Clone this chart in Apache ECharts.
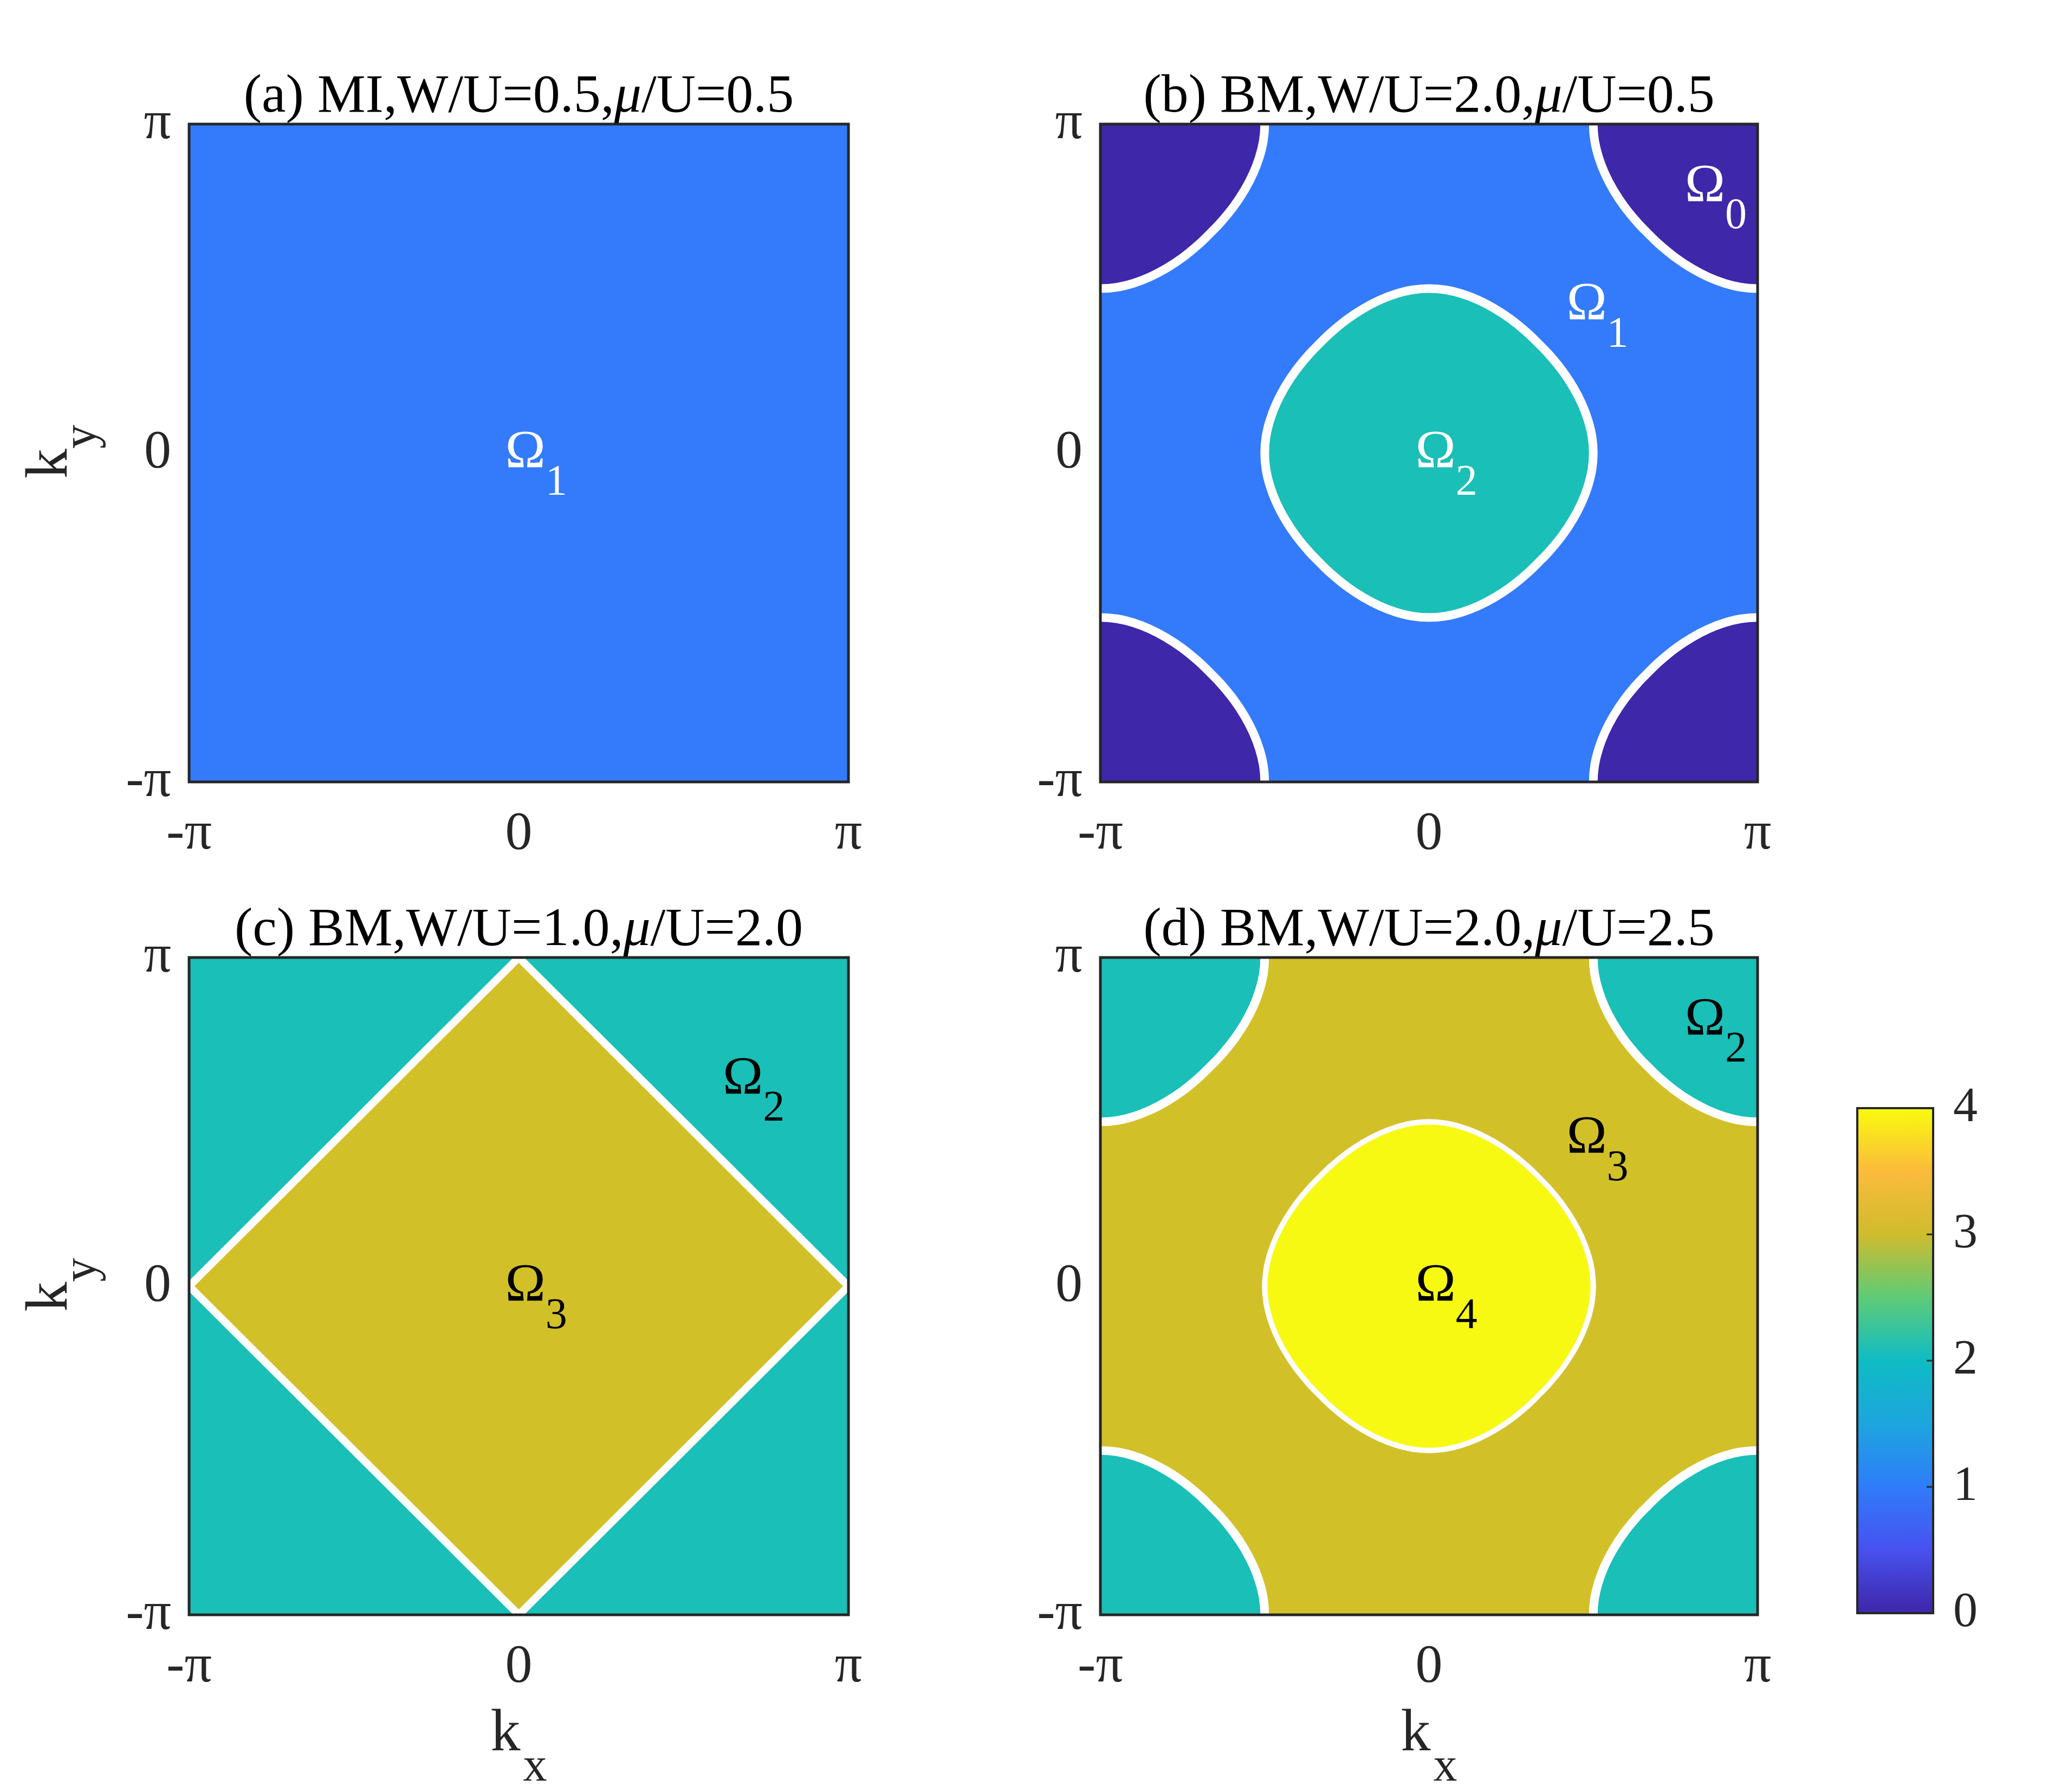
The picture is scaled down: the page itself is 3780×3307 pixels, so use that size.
<!DOCTYPE html>
<html>
<head>
<meta charset="utf-8">
<script src="https://cdn.jsdelivr.net/npm/echarts@6/dist/echarts.min.js"></script>
<style>html,body{margin:0;padding:0;background:#fff}#c{width:3780px;height:3307px}</style>
</head>
<body>
<div id="c"></div>
<script>
const FONT = '"Liberation Serif","Times New Roman",serif';

// ---- tick labels (k in units of pi) ----
const tickValues = [-1, 0, 1];
const tickLabels = ['-π', '0', 'π'];
const colorbarTicks = [0, 1, 2, 3, 4];

// ---- region boundary: first quadrant of the closed contour around a centre (units of pi) ----
const contourQuadrant = [
  [0.5, 0], [0.496, 0.05], [0.484, 0.1], [0.465, 0.15], [0.439, 0.2], [0.406, 0.25],
  [0.365, 0.3], [0.333, 0.333], [0.3, 0.365], [0.25, 0.406], [0.2, 0.439],
  [0.15, 0.465], [0.1, 0.484], [0.05, 0.496], [0, 0.5]
];
const diamondVertices = [[1, 0], [0, 1], [-1, 0], [0, -1]];
const fullSquare = [[-1, -1], [1, -1], [1, 1], [-1, 1]];

// ---- regions per panel: [shape, centre kx, centre ky, Omega index] ----
const regionsA = [['full', 0, 0, 1]];
const regionsB = [['full', 0, 0, 1], ['round', 0, 0, 2], ['round', 1, 1, 0], ['round', -1, 1, 0], ['round', 1, -1, 0], ['round', -1, -1, 0]];
const regionsC = [['full', 0, 0, 2], ['diamond', 0, 0, 3]];
const regionsD = [['full', 0, 0, 3], ['round', 0, 0, 4], ['round', 1, 1, 2], ['round', -1, 1, 2], ['round', 1, -1, 2], ['round', -1, -1, 2]];

// ---- Omega labels per panel: [kx, ky, subscript] ----
const labelsA = [[0.02, 0, '1']];
const labelsB = [[0.84, 0.81, '0'], [0.48, 0.45, '1'], [0.02, 0, '2']];
const labelsC = [[0.68, 0.63, '2'], [0.02, 0, '3']];
const labelsD = [[0.84, 0.81, '2'], [0.48, 0.45, '3'], [0.02, 0, '4']];

// ---- titles ----
const titlePre = ['(a) MI,W/U=0.5,', '(b) BM,W/U=2.0,', '(c) BM,W/U=1.0,', '(d) BM,W/U=2.0,'];
const titlePost = ['/U=0.5', '/U=0.5', '/U=2.0', '/U=2.5'];

// ---- colours ----
const regionColors = ['#3e27a9', '#337bfb', '#1abfb7', '#d2c029', '#f8f913'];
const parulaStops = [
  [0, '#3e26a8'], [0.5, '#4751ef'], [1, '#2f7cf9'], [1.5, '#1da5de'], [2, '#0fbcc4'],
  [2.5, '#5ecb77'], [3, '#cfbc2c'], [3.5, '#fbbb3c'], [4, '#f9fb0e']
];

// ---- styles ----
const strokesA = [0];
const strokesB = [0, 16, 16, 16, 16, 16];
const strokesC = [0, 14];
const strokesD = [0, 10, 16, 16, 16, 16];

const gridRects = [
  [349, 229, 1217, 1214],
  [2031, 229, 1213, 1214],
  [349, 1767, 1217, 1213],
  [2031, 1767, 1213, 1213]
];
const colorbarRect = [3428, 2045, 140, 932];

const panels = [
  { regions: regionsA, labels: labelsA, strokes: strokesA, labelColor: '#ffffff' },
  { regions: regionsB, labels: labelsB, strokes: strokesB, labelColor: '#ffffff' },
  { regions: regionsC, labels: labelsC, strokes: strokesC, labelColor: '#000000' },
  { regions: regionsD, labels: labelsD, strokes: strokesD, labelColor: '#000000' }
];

// full closed loop from the quadrant (mirror symmetry)
const roundLoop = [];
contourQuadrant.forEach(p => roundLoop.push([p[0], p[1]]));
contourQuadrant.slice().reverse().slice(1).forEach(p => roundLoop.push([-p[0], p[1]]));
contourQuadrant.slice(1).forEach(p => roundLoop.push([-p[0], -p[1]]));
contourQuadrant.slice().reverse().slice(1, -1).forEach(p => roundLoop.push([p[0], -p[1]]));

function regionRenderer(p) {
  return function (params, api) {
    const r = p.regions[params.dataIndex];
    const cx = api.value(0), cy = api.value(1), v = api.value(2);
    const base = r[0] === 'full' ? fullSquare : (r[0] === 'diamond' ? diamondVertices : roundLoop);
    const pts = base.map(q => api.coord([cx + q[0], cy + q[1]]));
    const lw = p.strokes[params.dataIndex];
    return {
      type: 'polygon',
      shape: { points: pts, smooth: r[0] === 'round' ? 0.35 : 0 },
      style: { fill: regionColors[v], stroke: lw ? '#ffffff' : null, lineWidth: lw, lineJoin: 'miter' }
    };
  };
}

function txtStyle(text, size, color, align, extra) {
  return Object.assign({
    text: text, fontSize: size, fontFamily: FONT, fill: color,
    align: align, verticalAlign: 'middle', textAlign: align, textVerticalAlign: 'middle'
  }, extra || {});
}

function labelRenderer(p) {
  return function (params, api) {
    const L = p.labels[params.dataIndex];
    const c = api.coord([api.value(0), api.value(1)]);
    return {
      type: 'group',
      children: [
        { type: 'text', x: c[0], y: c[1], style: txtStyle('Ω', 100, p.labelColor, 'center') },
        { type: 'text', x: c[0] + 57, y: c[1] + 56, style: txtStyle(L[2], 80, p.labelColor, 'center') }
      ]
    };
  };
}

const grids = [], xAxes = [], yAxes = [], series = [];
const axisText = { fontFamily: FONT, fontSize: 100, color: '#262626' };
gridRects.forEach((g, i) => {
  grids.push({ left: g[0], top: g[1], width: g[2], height: g[3], show: true,
    backgroundColor: 'rgba(0,0,0,0)', borderColor: '#262626', borderWidth: 5, z: 10 });
  xAxes.push({ type: 'value', gridIndex: i, min: -1, max: 1, interval: 1,
    axisLine: { show: false }, axisTick: { show: false }, splitLine: { show: false },
    axisLabel: Object.assign({ margin: 47, formatter: v => tickLabels[tickValues.indexOf(v)] }, axisText) });
  yAxes.push({ type: 'value', gridIndex: i, min: -1, max: 1, interval: 1,
    axisLine: { show: false }, axisTick: { show: false }, splitLine: { show: false },
    axisLabel: Object.assign({ margin: 33, formatter: v => tickLabels[tickValues.indexOf(v)] }, axisText) });
  const p = panels[i];
  series.push({ type: 'custom', xAxisIndex: i, yAxisIndex: i, clip: true, z: 2, silent: true,
    data: p.regions.map(r => [r[1], r[2], r[3]]), renderItem: regionRenderer(p) });
  series.push({ type: 'custom', xAxisIndex: i, yAxisIndex: i, z: 5, silent: true,
    data: p.labels.map(l => [l[0], l[1]]), renderItem: labelRenderer(p) });
});

// colorbar
grids.push({ left: colorbarRect[0], top: colorbarRect[1], width: colorbarRect[2], height: colorbarRect[3],
  show: true, backgroundColor: 'rgba(0,0,0,0)', borderColor: '#262626', borderWidth: 4, z: 10 });
xAxes.push({ type: 'value', gridIndex: 4, min: 0, max: 1, show: false });
yAxes.push({ type: 'value', gridIndex: 4, position: 'right', min: colorbarTicks[0], max: colorbarTicks[colorbarTicks.length - 1], interval: 1,
  axisLine: { show: false }, splitLine: { show: false }, axisTick: { show: false },
  axisLabel: { margin: 37, fontFamily: FONT, fontSize: 90, color: '#262626' } });
series.push({ type: 'custom', xAxisIndex: 4, yAxisIndex: 4, silent: true, z: 2, data: [[0, 0]],
  renderItem: function (params, api) {
    const top = colorbarTicks[colorbarTicks.length - 1];
    const p0 = api.coord([0, top]), p1 = api.coord([1, colorbarTicks[0]]);
    const stops = parulaStops.map(s => ({ offset: 1 - s[0] / top, color: s[1] })).reverse();
    const children = [{ type: 'rect', shape: { x: p0[0], y: p0[1], width: p1[0] - p0[0], height: p1[1] - p0[1] },
      style: { fill: { type: 'linear', x: 0, y: 0, x2: 0, y2: 1, colorStops: stops } } }];
    colorbarTicks.slice(1, -1).forEach(t => {
      const q = api.coord([1, t]);
      children.push({ type: 'line', shape: { x1: q[0] - 12, y1: q[1], x2: q[0], y2: q[1] },
        style: { stroke: '#262626', lineWidth: 3 } });
    });
    return { type: 'group', children: children };
  } });

// titles and axis names
const graphics = [];
gridRects.forEach((g, i) => {
  const cx = g[0] + g[2] / 2;
  const baseY = g[1] - 19;
  graphics.push({ type: 'text', x: cx, y: baseY - 30, z: 20,
    style: {
      text: '{n|' + titlePre[i] + '}{i|μ}{n|' + titlePost[i] + '}',
      rich: { n: { fontSize: 100, fontFamily: FONT, fill: '#000' },
              i: { fontSize: 100, fontFamily: FONT, fontStyle: 'italic', fill: '#000' } },
      align: 'center', verticalAlign: 'middle', textAlign: 'center', textVerticalAlign: 'middle'
    } });
});
// k_x under bottom panels
[2, 3].forEach(i => {
  const g = gridRects[i];
  const cx = g[0] + g[2] / 2;
  const kBase = g[1] + g[3] + 255;
  graphics.push({ type: 'text', x: cx - 52, y: kBase - 34, z: 20, style: txtStyle('k', 110, '#262626', 'left') });
  graphics.push({ type: 'text', x: cx + 8, y: kBase + 55 - 27, z: 20, style: txtStyle('x', 88, '#262626', 'left') });
});
// k_y left of left panels
[0, 2].forEach(i => {
  const g = gridRects[i];
  const cy = g[1] + g[3] / 2;
  graphics.push({ type: 'group', x: 127, y: cy, rotation: Math.PI / 2, z: 20, children: [
    { type: 'text', x: -47, y: -33, style: txtStyle('k', 110, '#262626', 'left') },
    { type: 'text', x: 8, y: 26, style: txtStyle('y', 88, '#262626', 'left') }
  ] });
});

const chart = echarts.init(document.getElementById('c'), null, { renderer: 'canvas' });
chart.setOption({
  animation: false,
  backgroundColor: '#ffffff',
  grid: grids,
  xAxis: xAxes,
  yAxis: yAxes,
  series: series,
  graphic: { elements: graphics }
});
</script>
</body>
</html>
